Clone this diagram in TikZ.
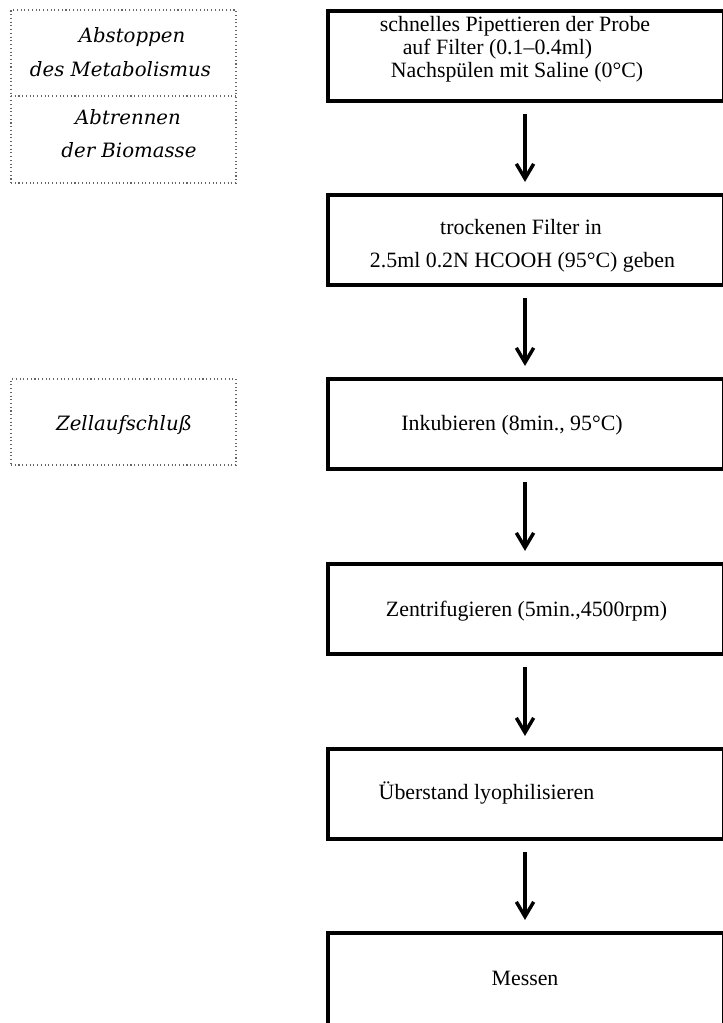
\documentclass[tikz,border=0pt]{standalone}
\usepackage{fontspec}
\setmainfont{Liberation Serif}
\newfontfamily\leftfont{DejaVu Serif}
\usetikzlibrary{arrows.meta}
\begin{document}
\begin{tikzpicture}[x=0.75pt,y=-0.75pt,
  stepbox/.style={draw, line width=2.6pt, minimum width=297pt, minimum height=67.5pt, inner sep=0pt},
  lastbox/.style={stepbox, minimum height=75pt},
  sidebox/.style={draw=black!60, dotted, line width=0.8pt, inner sep=0pt},
  txt/.style={anchor=base, inner sep=0pt, font=\fontsize{16.4}{19}\selectfont},
  stxt/.style={anchor=base, inner sep=0pt, font=\leftfont\itshape\fontsize{14.8}{17}\selectfont},
  arr/.style={-{Straight Barb[length=11pt,width=13pt,line width=2.6pt]}, line width=2.5pt, shorten <=8.5pt, shorten >=8.5pt}]
\useasboundingbox (0,0) rectangle (722,1023);

% step boxes
\node[stepbox] (b1) at (526,56) {};
\node[stepbox] (b2) at (526,240) {};
\node[stepbox] (b3) at (526,424) {};
\node[stepbox] (b4) at (526,609) {};
\node[stepbox] (b5) at (526,794) {};
\node[lastbox] (b6) at (526,983) {};

% texts in step boxes
\node[txt] (t1a) at (515,32) {schnelles Pipettieren der Probe};
\node[txt] (t1b) at (497.5,55) {auf Filter (0.1--0.4ml)};
\node[txt] (t1c) at (517,78) {Nachspülen mit Saline (0°C)};
\node[txt] (t2a) at (521,235) {trockenen Filter in};
\node[txt] (t2b) at (522.5,268) {2.5ml 0.2N HCOOH (95°C) geben};
\node[txt] (t3) at (512,430) {Inkubieren (8min., 95°C)};
\node[txt] (t4) at (526.5,616) {Zentrifugieren (5min.,4500rpm)};
\node[txt] (t5) at (486.5,799) {Überstand lyophilisieren};
\node[txt] (t6) at (525,985) {Messen};

% arrows
\draw[arr] ([xshift=-0.75pt]b1.south) -- ([xshift=-0.75pt]b2.north);
\draw[arr] ([xshift=-0.75pt]b2.south) -- ([xshift=-0.75pt]b3.north);
\draw[arr] ([xshift=-0.75pt]b3.south) -- ([xshift=-0.75pt]b4.north);
\draw[arr] ([xshift=-0.75pt]b4.south) -- ([xshift=-0.75pt]b5.north);
\draw[arr] ([xshift=-0.75pt]b5.south) -- ([xshift=-0.75pt]b6.north);

% side boxes
\node[sidebox, minimum width=168.75pt, minimum height=129.75pt] (s1) at (123.5,96.5) {};
\coordinate (d1) at (11,96);
\coordinate (d2) at (236,96);
\draw[black!60, dotted, line width=0.8pt] (d1) -- (d2);
\node[stxt] (l1) at (132,43) {Abstoppen};
\node[stxt] (l2) at (120.5,77) {des Metabolismus};
\node[stxt] (l3) at (128,125) {Abtrennen};
\node[stxt] (l4) at (129,158) {der Biomasse};

\node[sidebox, minimum width=168.75pt, minimum height=64.5pt] (s2) at (123.5,422) {};
\node[stxt] (l5) at (124,430) {Zellaufschluß};
\end{tikzpicture}
\end{document}
